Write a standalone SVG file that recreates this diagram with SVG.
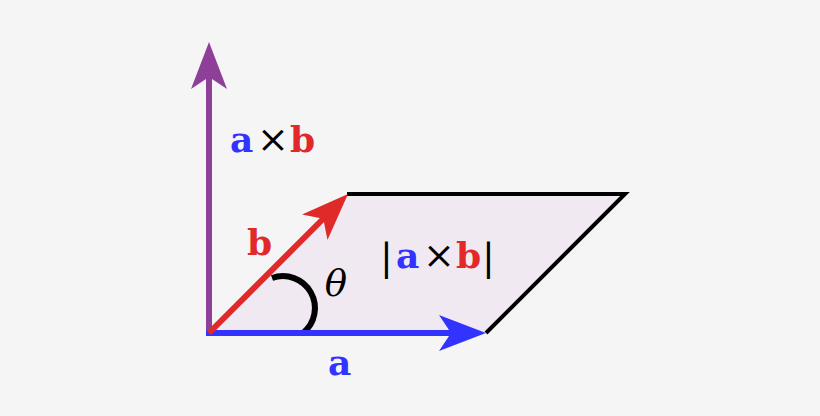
<svg xmlns="http://www.w3.org/2000/svg" xmlns:xlink="http://www.w3.org/1999/xlink" width="820" height="416" viewBox="0 0 820 416">
<style>
.lbl{font-family:"DejaVu Serif","Liberation Serif",serif;font-size:36px;font-weight:bold}
.blue{fill:#3333ff}
.red{fill:#e02a2a}
.op{font-family:"DejaVu Serif","Liberation Serif",serif;font-size:38px;font-weight:normal;fill:#000}
.shaft{stroke-width:6;fill:none;stroke-linecap:butt}
</style>
<defs>
<path id="head" d="M0,0 L-47,-18 L-35,0 L-47,18 Z"/>
</defs>
<rect width="820" height="416" fill="#f5f5f5"/>
<g id="parallelogram">
<polygon points="209,333 486,333 625,194 347,194" fill="#f1e9f1"/>
<polyline points="347,194 625,194 486,333" fill="none" stroke="#000" stroke-width="4" stroke-linejoin="miter"/>
</g>
<g id="angle">
<path d="M272,278 A32,32 0 0 1 303,333" fill="none" stroke="#000" stroke-width="6"/>
<text x="336" y="296" text-anchor="middle" font-family="DejaVu Serif, Liberation Serif, serif" font-style="italic" font-size="37" fill="#000">θ</text>
</g>
<g id="connectors">
<line class="shaft" x1="209" y1="336" x2="209" y2="70" stroke="#8e3f98"/>
<use xlink:href="#head" transform="translate(209,42) rotate(-90)" fill="#8e3f98"/>
<line class="shaft" x1="206" y1="333" x2="460" y2="333" stroke="#3333ff"/>
<use xlink:href="#head" transform="translate(486,333)" fill="#3333ff"/>
<line class="shaft" x1="209" y1="333" x2="330" y2="212" stroke="#e02a2a"/>
<use xlink:href="#head" transform="translate(348,194) rotate(-45)" fill="#e02a2a"/>
</g>
<g id="label-axb">
<text class="lbl blue" x="230" y="152">a</text>
<text class="op" x="257" y="152">×</text>
<text class="lbl red" x="290" y="152">b</text>
</g>
<g id="label-b"><text class="lbl red" x="247" y="255">b</text></g>
<g id="label-a"><text class="lbl blue" x="328" y="375">a</text></g>
<g id="label-area">
<text class="op" x="380" y="270">|</text>
<text class="lbl blue" x="396" y="268">a</text>
<text class="op" x="423" y="268">×</text>
<text class="lbl red" x="456" y="268">b</text>
<text class="op" x="482" y="270">|</text>
</g>
</svg>
